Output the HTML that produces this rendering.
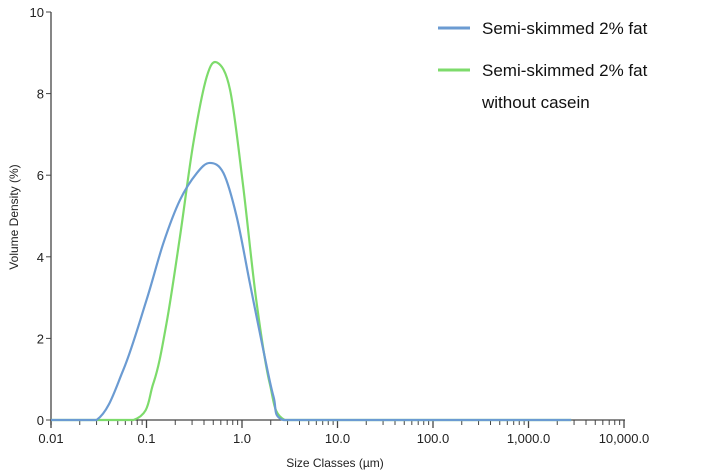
<!DOCTYPE html>
<html><head><meta charset="utf-8"><style>
body{margin:0;background:#fff}
svg{display:block;font-family:"Liberation Sans",sans-serif}
</style></head><body>
<svg id="chart" width="710" height="471">
<g id="axes"></g><g id="series"></g>
<g>
<g>
<line x1="438" y1="28" x2="470" y2="28" stroke="#6b9bd2" stroke-width="3"/>
<text x="482" y="34" font-size="17" fill="#111">Semi-skimmed 2% fat</text></g>
<g>
<line x1="438" y1="70" x2="470" y2="70" stroke="#7ddb6b" stroke-width="3"/>
<text x="482" y="76" font-size="17" fill="#111">Semi-skimmed 2% fat</text>
<text x="482" y="108" font-size="17" fill="#111">without casein</text></g>
</g>
</svg>
<script>
const xTickValues=[0.01,0.1,1,10,100,1000,10000];
const xTickLabels=["0.01","0.1","1.0","10.0","100.0","1,000.0","10,000.0"];
const yTickValues=[0,2,4,6,8,10];
const blueSizes=[0.01,0.03,0.057,0.1,0.15,0.224,0.336,0.46,0.64,0.88,1.21,1.67,2.14,2.7,10,100,1000,2800];
const blueValues=[0,0,1.22,2.94,4.33,5.39,6.05,6.3,6.05,4.98,3.35,1.72,0.57,0,0,0,0,0];
const greenSizes=[0.01,0.073,0.118,0.162,0.224,0.309,0.427,0.55,0.75,1.02,1.41,1.95,2.8,10,100,1000,2800];
const greenValues=[0,0,0.9,2.37,4.49,6.78,8.41,8.76,8.09,5.8,2.94,0.9,0,0,0,0,0];
const NS="http://www.w3.org/2000/svg";
const X0=51,DEC=95.5,Y0=420,YU=40.8;
const xs=v=>X0+Math.log10(v/0.01)*DEC;
const ys=v=>Y0-v*YU;
function mk(t,a,p){const e=document.createElementNS(NS,t);for(const k in a)e.setAttribute(k,a[k]);p.appendChild(e);return e;}
const ax=document.getElementById('axes');
const yl=mk('line',{x1:X0,y1:ys(10),x2:X0,y2:Y0+5,stroke:'#444','stroke-width':1.3},ax);


const xl=mk('line',{x1:X0,y1:Y0,x2:xs(10000)+1,y2:Y0,stroke:'#444','stroke-width':1.3},ax);


yTickValues.forEach(v=>{
 mk('line',{x1:X0-5,y1:ys(v),x2:X0,y2:ys(v),stroke:'#444'},ax);
 const t=mk('text',{x:X0-7,y:ys(v)+5,'text-anchor':'end','font-size':13,fill:'#222'},ax);t.textContent=v;
 
 
});
xTickValues.forEach((v,i)=>{
 mk('line',{x1:xs(v),y1:Y0,x2:xs(v),y2:Y0+8,stroke:'#444','stroke-width':1.3},ax);
 const t=mk('text',{x:xs(v),y:Y0+23,'text-anchor':'middle','font-size':13,fill:'#222'},ax);t.textContent=xTickLabels[i];
 
 
 if(i<xTickValues.length-1)for(let m=2;m<10;m++)mk('line',{x1:xs(v*m),y1:Y0,x2:xs(v*m),y2:Y0+5,stroke:'#444'},ax);
});
const yt=mk('text',{transform:'translate(18,217) rotate(-90)','text-anchor':'middle','font-size':12,fill:'#222'},ax);yt.textContent='Volume Density (%)';


const xt=mk('text',{x:335,y:467,'text-anchor':'middle','font-size':12,fill:'#222'},ax);xt.textContent='Size Classes (µm)';


function path(sz,vals){
 const p=sz.map((s,i)=>[xs(s),ys(vals[i])]);
 let d='M'+p[0][0]+','+p[0][1];
 for(let i=0;i<p.length-1;i++){
  const a=p[Math.max(0,i-1)],b=p[i],c=p[i+1],e=p[Math.min(p.length-1,i+2)];
  let c1y=b[1]+(c[1]-a[1])/6,c2y=c[1]-(e[1]-b[1])/6;
  c1y=Math.min(c1y,Y0);c2y=Math.min(c2y,Y0);
  d+=` C${b[0]+(c[0]-a[0])/6},${c1y} ${c[0]-(e[0]-b[0])/6},${c2y} ${c[0]},${c[1]}`;
 }
 return d;
}
const sg=document.getElementById('series');
const gp=mk('path',{d:path(greenSizes,greenValues),fill:'none',stroke:'#7ddb6b','stroke-width':2.2},sg);


const bp=mk('path',{d:path(blueSizes,blueValues),fill:'none',stroke:'#6b9bd2','stroke-width':2.2},sg);


</script>
</body></html>
